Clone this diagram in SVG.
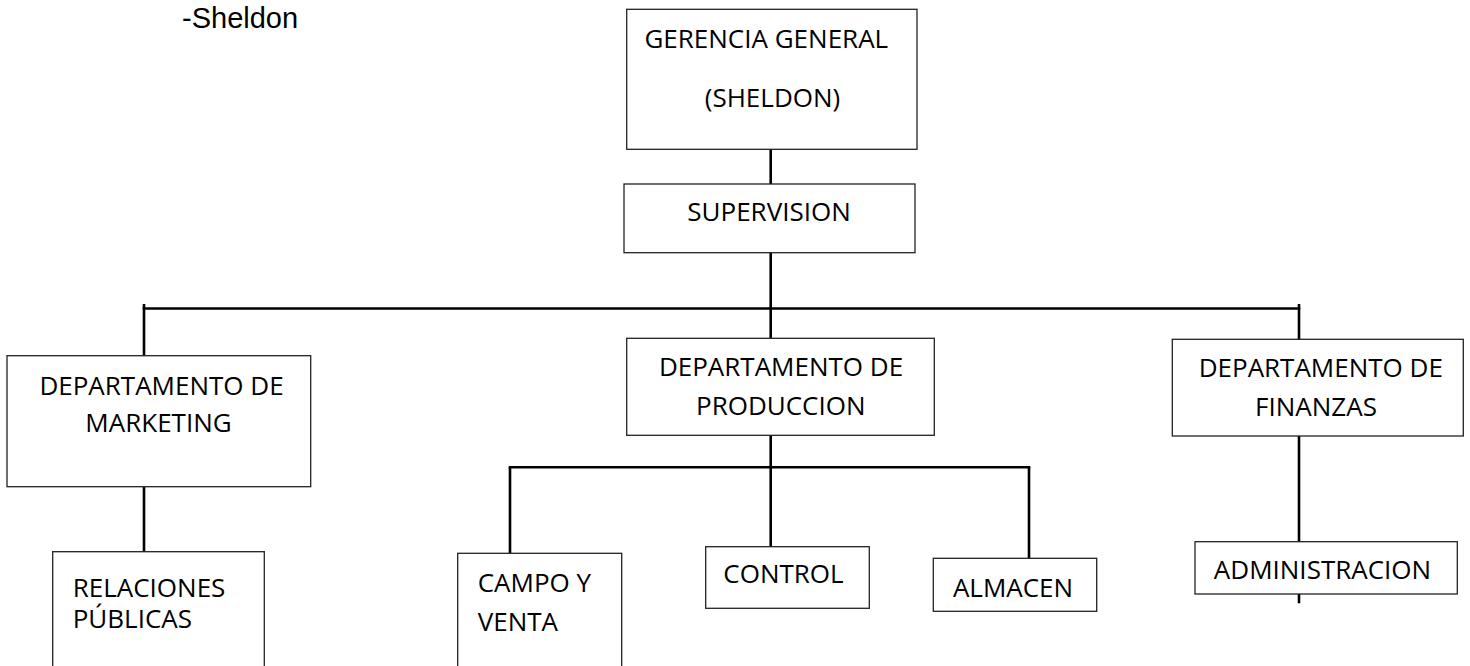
<svg xmlns="http://www.w3.org/2000/svg" width="1470" height="666" viewBox="0 0 1470 666">
<style>
.box{fill:#fff;stroke:#222;stroke-width:1.3}
.t{font-family:"Open Sans","Noto Sans","Liberation Sans",sans-serif;font-size:26px;fill:#000}
.c{text-anchor:middle}
.conn line{stroke:#000;stroke-width:2.6;stroke-linecap:butt}
</style>
<rect width="1470" height="666" fill="#fff"/>
<text x="182" y="28" style="font-family:'Liberation Sans',Arial,sans-serif;font-size:29px;fill:#000">-Sheldon</text>
<g id="connectors" class="conn">
<line x1="770.7" y1="149.3" x2="770.7" y2="184"/>
<line x1="770.7" y1="252.7" x2="770.7" y2="338.3"/>
<line x1="142.7" y1="308.5" x2="1300.3" y2="308.5"/>
<line x1="144" y1="304" x2="144" y2="355.7"/>
<line x1="1299" y1="304" x2="1299" y2="339.3"/>
<line x1="144" y1="486.7" x2="144" y2="551.7"/>
<line x1="770.7" y1="435.3" x2="770.7" y2="546.7"/>
<line x1="508.7" y1="467.3" x2="1030.3" y2="467.3"/>
<line x1="510" y1="467.3" x2="510" y2="553.3"/>
<line x1="1029" y1="467.3" x2="1029" y2="558.3"/>
<line x1="1299" y1="436" x2="1299" y2="541.7"/>
<line x1="1299" y1="594" x2="1299" y2="603.3"/>
</g>
<g id="gerencia">
<rect class="box" x="626.7" y="9.3" width="290.3" height="140"/>
<text class="t c" x="766.3" y="48">GERENCIA GENERAL</text>
<text class="t c" x="772.5" y="107">(SHELDON)</text>
</g>
<g id="supervision">
<rect class="box" x="624" y="184" width="291" height="68.7"/>
<text class="t c" x="769" y="221">SUPERVISION</text>
</g>
<g id="marketing">
<rect class="box" x="7" y="355.7" width="303.7" height="131"/>
<text class="t c" x="161.5" y="395">DEPARTAMENTO DE</text>
<text class="t c" x="158.5" y="431.7">MARKETING</text>
</g>
<g id="relaciones">
<rect class="box" x="52.7" y="551.7" width="211.6" height="130"/>
<text class="t" x="72.7" y="596.7">RELACIONES</text>
<text class="t" x="72.7" y="628">PÚBLICAS</text>
</g>
<g id="produccion">
<rect class="box" x="626.7" y="338.3" width="307.6" height="97"/>
<text class="t c" x="781" y="376">DEPARTAMENTO DE</text>
<text class="t c" x="780.8" y="415">PRODUCCION</text>
</g>
<g id="campo">
<rect class="box" x="457.7" y="553.3" width="164" height="130"/>
<text class="t" x="477.7" y="591.7">CAMPO Y</text>
<text class="t" x="477.7" y="630.7">VENTA</text>
</g>
<g id="control">
<rect class="box" x="705.7" y="546.7" width="163.6" height="61.6"/>
<text class="t c" x="783.5" y="583.3">CONTROL</text>
</g>
<g id="almacen">
<rect class="box" x="933.3" y="558.3" width="163.4" height="53"/>
<text class="t c" x="1013" y="596.7">ALMACEN</text>
</g>
<g id="finanzas">
<rect class="box" x="1172.3" y="339.3" width="291" height="96.7"/>
<text class="t c" x="1320.8" y="377.3">DEPARTAMENTO DE</text>
<text class="t c" x="1316" y="415.7">FINANZAS</text>
</g>
<g id="administracion">
<rect class="box" x="1195" y="541.7" width="262.3" height="52.3"/>
<text class="t c" x="1322.5" y="579.3">ADMINISTRACION</text>
</g>
</svg>
